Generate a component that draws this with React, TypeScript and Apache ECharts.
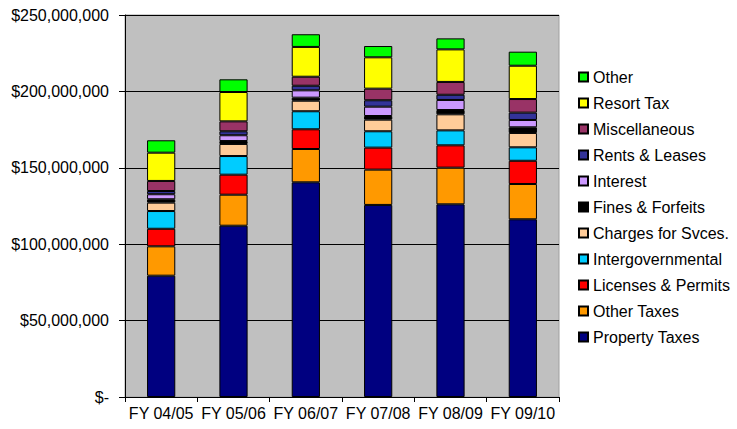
import React, { useEffect, useRef } from "react";
import * as echarts from "echarts";

const categories = ["FY 04/05", "FY 05/06", "FY 06/07", "FY 07/08", "FY 08/09", "FY 09/10"];

// values in millions of dollars
const propertyTaxes = [79.4, 112.1, 140.5, 125.7, 126.1, 116.3];
const otherTaxes = [19.2, 20.3, 21.8, 23.1, 24.0, 23.1];
const licensesPermits = [11.5, 13.1, 12.9, 14.4, 14.6, 15.2];
const intergovernmental = [11.6, 12.2, 11.8, 10.7, 9.8, 8.8];
const chargesForSvces = [5.5, 7.9, 6.9, 7.6, 10.5, 9.4];
const finesForfeits = [2.2, 1.9, 2.0, 2.4, 2.8, 3.7];
const interest = [3.3, 3.8, 4.8, 6.1, 6.6, 4.8];
const rentsLeases = [2.1, 2.6, 3.0, 4.2, 3.4, 4.8];
const miscellaneous = [6.6, 6.5, 5.9, 7.6, 8.4, 8.9];
const resortTax = [18.5, 19.2, 19.5, 20.5, 21.3, 21.8];
const other = [8.1, 8.3, 8.3, 7.4, 7.2, 9.2];

const seriesDefs = [
  { name: "Property Taxes", data: propertyTaxes, color: "#000080" },
  { name: "Other Taxes", data: otherTaxes, color: "#FF9900" },
  { name: "Licenses & Permits", data: licensesPermits, color: "#FF0000" },
  { name: "Intergovernmental", data: intergovernmental, color: "#00CCFF" },
  { name: "Charges for Svces.", data: chargesForSvces, color: "#FFCC99" },
  { name: "Fines & Forfeits", data: finesForfeits, color: "#000000" },
  { name: "Interest", data: interest, color: "#CC99FF" },
  { name: "Rents & Leases", data: rentsLeases, color: "#333399" },
  { name: "Miscellaneous", data: miscellaneous, color: "#993366" },
  { name: "Resort Tax", data: resortTax, color: "#FFFF00" },
  { name: "Other", data: other, color: "#00FF00" },
];

const FONT = "'Liberation Sans', Arial, sans-serif";

function fmtMoney(v: number): string {
  if (v === 0) return "$-";
  return "$" + Math.round(v).toLocaleString("en-US");
}

export default function App() {
  const ref = useRef<HTMLDivElement>(null);
  useEffect(() => {
    if (!ref.current) return;
    const chart = echarts.init(ref.current, undefined, { renderer: "svg" });
    chart.setOption({
      animation: false,
      backgroundColor: "#FFFFFF",
      textStyle: { fontFamily: FONT },
      grid: { left: 125, right: 178, top: 15, bottom: 32, show: true, backgroundColor: "#C0C0C0", borderColor: "#A0A0A0", borderWidth: 1 },
      legend: {
        orient: "vertical",
        left: 573,
        top: 64,
        itemWidth: 9,
        itemHeight: 9,
        itemGap: 10,
        icon: "rect",
        data: seriesDefs.map((s) => s.name).reverse(),
        textStyle: { fontFamily: FONT, fontSize: 16, color: "#000", lineHeight: 16 },
      },
      xAxis: {
        type: "category",
        data: categories,
        axisLine: { lineStyle: { color: "#000", width: 1 } },
        axisTick: { show: true, length: 5, lineStyle: { color: "#000" } },
        axisLabel: { interval: 0, fontFamily: FONT, fontSize: 16, color: "#000", margin: 8 },
      },
      yAxis: {
        type: "value",
        min: 0,
        max: 250000000,
        interval: 50000000,
        axisLine: { show: true, lineStyle: { color: "#000", width: 1 } },
        axisTick: { show: true, length: 6, lineStyle: { color: "#000" } },
        splitLine: { show: true, lineStyle: { color: "#000", width: 1 } },
        axisLabel: { fontFamily: FONT, fontSize: 16, color: "#000", margin: 16, formatter: (v: number) => fmtMoney(v) },
      },
      series: seriesDefs.map((s) => ({
        name: s.name,
        type: "bar",
        stack: "total",
        barWidth: "39%",
        data: s.data.map((v) => v * 1000000),
        itemStyle: { color: s.color, borderColor: "#000", borderWidth: 1 },
      })),
    });
    return () => chart.dispose();
  }, []);
  return <div ref={ref} style={{ width: 737, height: 429, position: "absolute", left: 0, top: 0 }} />;
}
